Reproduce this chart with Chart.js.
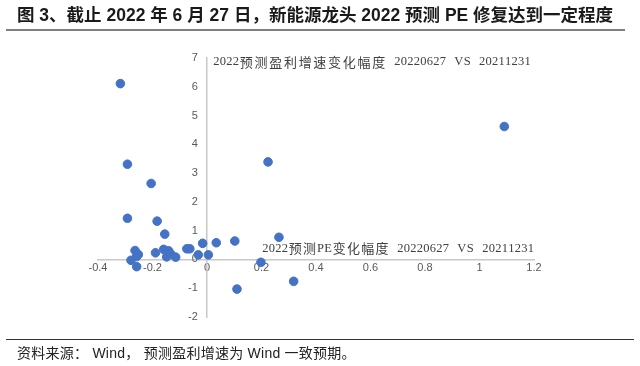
<!DOCTYPE html>
<html>
<head>
<meta charset="utf-8">
<script src="https://cdn.jsdelivr.net/npm/chart.js@4/dist/chart.umd.min.js"></script>
<style>
    html, body { margin: 0; padding: 0; background: #fff; }
    #wrap { position: relative; width: 640px; height: 366px; overflow: hidden; }
    #title {
        position: absolute; left: 17px; top: 1px;
        font: bold 17.5px "Liberation Sans", "Noto Sans CJK SC", sans-serif;
        color: #1a1a1a; white-space: nowrap;
    }
    #topLine { position: absolute; left: 6px; top: 29px; width: 619px; height: 2px; background: #7f7f7f; }
    #bottomLine { position: absolute; left: 6px; top: 339px; width: 628px; height: 1px; background: #333; }
    #note {
        position: absolute; left: 17px; top: 342px;
        font: 14px "Liberation Sans", "Noto Sans CJK SC", sans-serif;
        letter-spacing: 0.25px;
        color: #222; white-space: pre;
    }
    #chart { position: absolute; left: 0; top: 0; }
</style>
</head>
<body>
<div id="wrap">
    <canvas id="chart" width="640" height="366"></canvas>
    <div id="title">图 3、截止 2022 年 6 月 27 日，新能源龙头 2022 预测 PE 修复达到一定程度</div>
    <div id="topLine"></div>
    <div id="bottomLine"></div>
    <div id="note">资料来源： Wind， 预测盈利增速为 Wind 一致预期。</div>
</div>
<script>
// x: 2022预测PE变化幅度, y: 2022预测盈利增速变化幅度 (20220627 vs 20211231)
const peChange = [
    -0.318, -0.292, -0.205, -0.292, -0.183, -0.155, -0.264, -0.252, -0.258, -0.279,
    -0.258, -0.189, -0.159, -0.141, -0.148, -0.133, -0.115, -0.074, -0.063, -0.032,
    -0.016, 0.005, 0.034, 0.102, 0.110, 0.198, 0.224, 0.264, 0.318, 1.091
];
const growthChange = [
    6.11, 3.31, 2.64, 1.43, 1.33, 0.88, 0.31, 0.17, 0.10, -0.03,
    -0.25, 0.23, 0.35, 0.30, 0.09, 0.19, 0.08, 0.37, 0.37, 0.16,
    0.56, 0.16, 0.58, 0.64, -1.03, -0.10, 3.39, 0.77, -0.76, 4.62
];
const xTitle = '2022预测PE变化幅度 20220627 VS 20211231';
const yTitle = '2022预测盈利增速变化幅度 20220627 VS 20211231';

const points = peChange.map((x, i) => ({ x: x, y: growthChange[i] }));

// draws the text char by char, cjk chars get a fixed cell like the old song fonts
function spacedText(ctx, text, x, y, cjkStep, align) {
    const cjkFont = '13px "Noto Sans CJK SC", sans-serif';
    const latinFont = '12.5px "Liberation Serif", serif';
    const steps = [];
    for (const ch of text) {
        let w;
        if (ch.charCodeAt(0) > 0x2e80) w = cjkStep;
        else if (ch === ' ') w = 8;
        else if (ch >= '0' && ch <= '9') w = 6.5;
        else { ctx.font = latinFont; w = ctx.measureText(ch).width + 0.5; }
        steps.push([ch, w]);
    }
    const total = steps.reduce((s, c) => s + c[1], 0);
    let cx = align === 'right' ? x - total : x;
    ctx.textAlign = 'center';
    ctx.textBaseline = 'middle';
    for (const [ch, w] of steps) {
        ctx.font = ch.charCodeAt(0) > 0x2e80 ? cjkFont : latinFont;
        ctx.fillText(ch, cx + w / 2, y);
        cx += w;
    }
}

const axisTitles = {
    id: 'axisTitles',
    afterDraw(chart) {
        const ctx = chart.ctx;
        const xs = chart.scales.x, ys = chart.scales.y;
        ctx.save();
        ctx.fillStyle = '#404040';
        spacedText(ctx, yTitle, xs.getPixelForValue(0) + 6, ys.getPixelForValue(7) + 4, 14.7, 'left');
        spacedText(ctx, xTitle, xs.getPixelForValue(1.2), ys.getPixelForValue(0) - 11, 14.2, 'right');
        ctx.restore();
    }
};

new Chart(document.getElementById('chart'), {
    type: 'scatter',
    data: {
        datasets: [{
            data: points,
            backgroundColor: '#4472c4',
            borderColor: '#4472c4',
            pointRadius: 4.3,
            pointHoverRadius: 4.3,
        }]
    },
    options: {
        responsive: false,
        animation: false,
        layout: { padding: { left: 98, right: 106, top: 58, bottom: 49 } },
        scales: {
            x: {
                type: 'linear',
                position: { y: 0 },
                min: -0.4, max: 1.2,
                grid: { display: false, drawTicks: false },
                border: { display: true, color: '#c8c8c8', width: 1.5 },
                ticks: {
                    stepSize: 0.2,
                    padding: 2,
                    color: '#595959',
                    font: { family: '"Liberation Sans", sans-serif', size: 11 },
                    callback: v => Math.round(v * 10) / 10
                }
            },
            y: {
                type: 'linear',
                position: { x: 0 },
                min: -2, max: 7,
                grid: { display: false, drawTicks: false },
                border: { display: true, color: '#c8c8c8', width: 1.5 },
                ticks: {
                    stepSize: 1,
                    color: '#595959',
                    font: { family: '"Liberation Sans", sans-serif', size: 11 },
                    // centred axis gets no padding, so pad with spaces
                    callback: v => v + '   '
                }
            }
        },
        plugins: {
            legend: { display: false },
            tooltip: { enabled: false },
            title: { display: false }
        }
    },
    plugins: [axisTitles]
});
</script>
</body>
</html>
